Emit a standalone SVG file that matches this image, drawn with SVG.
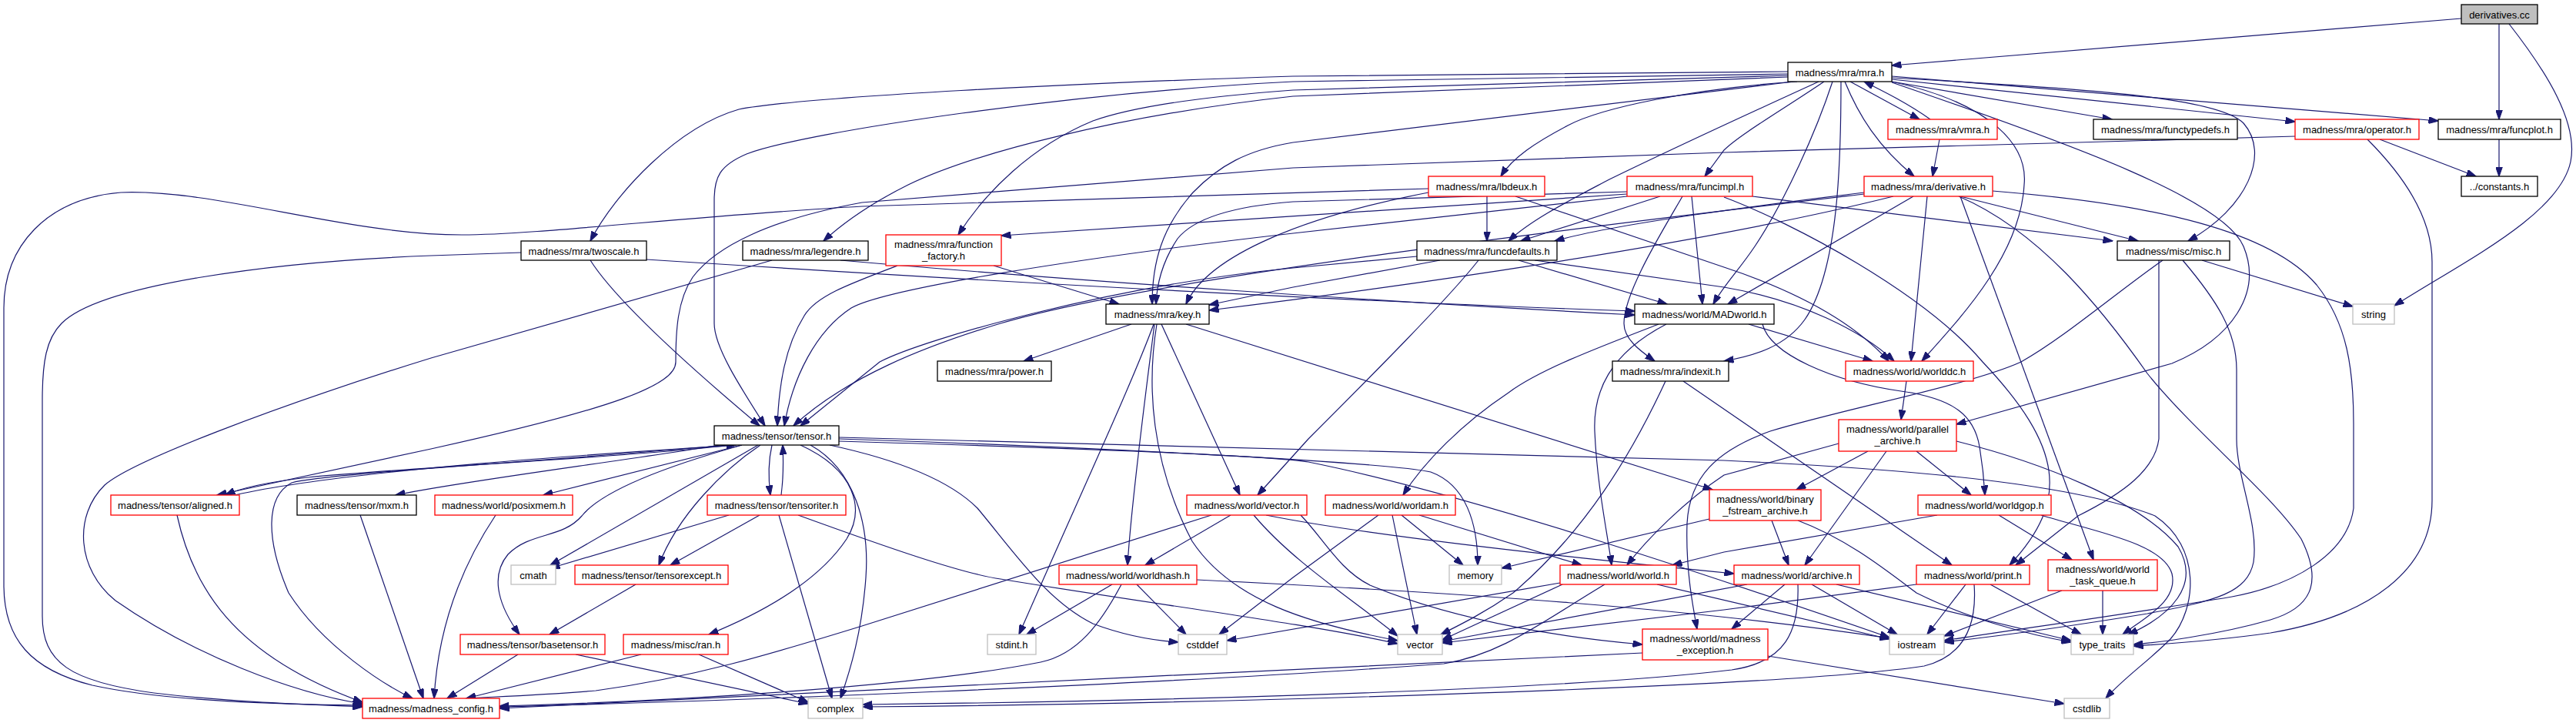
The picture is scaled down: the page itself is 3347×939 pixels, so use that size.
<svg xmlns="http://www.w3.org/2000/svg" width="3347" height="939" viewBox="0 0 3347 939">
<defs>
<style>
.n rect{fill:#fff;stroke-width:1.3}
.b rect{stroke:#000}
.r rect{stroke:#ff0000}
.g rect{stroke:#bfbfbf}
.n text{font-family:"Liberation Sans",Arial,sans-serif;font-size:13px;fill:#000;text-anchor:middle}
#edges path{fill:none;stroke:#191970;stroke-width:1.2;marker-end:url(#ah)}
</style>
<marker id="ah" viewBox="0 0 13 9" refX="12.5" refY="4.5" markerWidth="13" markerHeight="9" markerUnits="userSpaceOnUse" orient="auto"><path d="M0,0L13,4.5L0,9z" fill="#191970" stroke="#191970"/></marker>
</defs>
<rect width="3347" height="939" fill="#fff"/>
<g id="edges">
<path d="M3198,24 L2458,85"/>
<path d="M3247,31 L3247,155"/>
<path d="M3260,31 C3310,95 3350,160 3340,210 C3325,280 3200,340 3111,397"/>
<path d="M2323,93 L1680,99 C1400,108 1050,125 960,142 C880,165 800,250 767,313"/>
<path d="M2323,100 L1680,125 C1450,150 1263,200 1180,240 C1130,265 1095,290 1070,313"/>
<path d="M2323,98 L1680,117 C1500,130 1440,150 1420,157 C1340,190 1280,250 1245,305"/>
<path d="M2330,106 L1680,185 C1620,195 1584,215 1550,250 C1510,295 1497,340 1497,395"/>
<path d="M2335,106 C2200,115 2080,140 2037,163 C1995,185 1965,205 1950,229"/>
<path d="M2370,106 C2320,140 2260,175 2240,195 L2215,229"/>
<path d="M2363,106 C2300,135 2200,180 2091,233 C2040,260 1990,285 1960,313"/>
<path d="M2381,106 C2360,170 2320,260 2280,320 C2260,350 2240,370 2226,395"/>
<path d="M2323,96 L1680,106 C1400,120 1050,170 970,200 C935,215 928,230 928,260 L928,420 C928,450 960,500 994,553"/>
<path d="M2404,106 L2494,155"/>
<path d="M2508,155 C2480,135 2450,120 2422,106"/>
<path d="M2397,106 C2415,150 2440,190 2487,229"/>
<path d="M2458,106 L2744,155"/>
<path d="M2458,103 L2982,158"/>
<path d="M2458,99 L3168,157"/>
<path d="M2458,101 C2700,115 2880,125 2915,160 C2950,200 2920,270 2843,313"/>
<path d="M2458,106 C2590,135 2635,190 2630,240 C2625,330 2550,410 2497,469"/>
<path d="M2392,106 C2392,200 2390,350 2345,415 C2320,450 2280,462 2240,469"/>
<path d="M2458,107 C2700,190 2890,260 2915,320 C2940,380 2900,440 2822,472 L2542,551"/>
<path d="M2520,181 L2511,229"/>
<path d="M677,328 L560,332 C350,340 130,370 80,420 C60,440 55,470 55,520 L55,800 C55,860 90,885 200,900 C300,912 400,915 471,918"/>
<path d="M767,338 C800,390 900,480 987,553"/>
<path d="M840,337 C1200,360 1700,390 2124,404"/>
<path d="M1092,338 C1400,365 1800,392 2124,409"/>
<path d="M1003,338 L560,465 C350,530 170,600 136,630 C95,670 100,740 150,780 C250,850 380,900 471,914"/>
<path d="M1291,345 L1454,395"/>
<path d="M1166,345 C1100,370 1060,385 1045,410 C1020,450 1012,500 1010,553"/>
<path d="M1932,255 L1932,313"/>
<path d="M1856,245 L1120,268 C900,280 700,305 600,305 C450,305 280,245 157,250 C60,258 5,320 5,400 L5,760 C5,830 40,870 120,890 C220,912 380,915 471,916"/>
<path d="M1969,255 L2240,347 C2340,380 2410,420 2454,469"/>
<path d="M1856,250 C1700,280 1570,330 1541,395"/>
<path d="M2157,255 L1976,313"/>
<path d="M2198,255 L2212,395"/>
<path d="M2186,255 C2160,300 2110,380 2110,420 C2110,440 2130,455 2150,469"/>
<path d="M2114,252 L1301,306"/>
<path d="M2114,249 L1680,262 C1600,268 1550,285 1530,310 C1510,340 1503,370 1502,395"/>
<path d="M2114,255 L1680,303 C1400,335 1150,375 1106,400 C1060,430 1030,490 1019,553"/>
<path d="M2277,255 L2745,313"/>
<path d="M2240,256 C2330,290 2500,380 2576,470 C2680,580 2690,650 2611,734"/>
<path d="M2422,250 C2300,265 2100,290 2020,313"/>
<path d="M2460,255 C2200,320 1800,375 1571,403"/>
<path d="M2422,252 C2100,290 1500,360 1300,420 C1200,450 1100,490 1031,553"/>
<path d="M2486,255 L2245,395"/>
<path d="M2504,255 L2483,469"/>
<path d="M2547,255 L2778,313"/>
<path d="M2545,255 C2650,300 2730,400 2790,485 C2850,560 2950,640 2990,700 C3020,760 3000,790 2950,805 C2880,825 2800,835 2772,837"/>
<path d="M2589,248 C2800,265 2950,300 3010,370 C3050,420 3058,480 3058,550 L3058,660 C3050,720 2980,760 2900,775 C2750,800 2600,820 2526,832"/>
<path d="M2547,255 L2720,727"/>
<path d="M3076,181 C3120,225 3160,280 3160,340 L3160,650 C3160,740 3080,800 2950,822 C2880,832 2820,836 2772,839"/>
<path d="M3092,181 L3217,229"/>
<path d="M3247,181 L3247,229"/>
<path d="M2982,177 L2240,198 L1680,218 L1120,263 C1000,285 930,320 900,360 C880,390 878,430 878,470 C878,500 800,530 560,583 L282,643"/>
<path d="M2861,338 L3057,398"/>
<path d="M2836,338 C2880,390 2906,430 2906,480 L2906,570 C2906,620 2935,680 2928,730 C2920,770 2880,780 2790,797 C2680,815 2580,828 2526,834"/>
<path d="M2810,338 C2750,380 2680,440 2626,470 C2560,500 2400,530 2300,560 C2230,585 2195,620 2192,680 C2190,740 2200,790 2205,817"/>
<path d="M2805,338 L2805,570 C2800,610 2760,640 2700,670 L2619,734"/>
<path d="M2164,495 C2120,590 2060,690 1966,770 C1930,795 1900,810 1872,824"/>
<path d="M2187,495 L2536,734"/>
<path d="M2272,421 L2433,469"/>
<path d="M2155,421 C2080,450 2000,480 1960,510 C1900,550 1850,600 1823,643"/>
<path d="M2165,421 C2090,460 2070,510 2072,560 C2075,630 2088,690 2094,734"/>
<path d="M2290,421 C2300,460 2380,495 2470,508 C2540,518 2565,540 2572,580 C2577,610 2578,625 2579,643"/>
<path d="M2477,495 L2470,545"/>
<path d="M2427,586 L2334,636"/>
<path d="M2451,586 L2345,734"/>
<path d="M2490,586 L2561,643"/>
<path d="M2389,576 L2240,617 C2190,650 2140,700 2114,734"/>
<path d="M2542,573 C2650,600 2780,650 2830,710 C2860,760 2820,800 2765,824"/>
<path d="M2302,676 L2324,734"/>
<path d="M2221,674 L1951,738"/>
<path d="M2336,676 C2400,700 2450,740 2490,770 C2560,805 2640,825 2691,834"/>
<path d="M2597,669 L2692,727"/>
<path d="M2517,669 L2240,717 L2173,734"/>
<path d="M2652,669 C2720,690 2810,705 2822,745 C2830,780 2790,800 2758,824"/>
<path d="M2679,767 L2526,826"/>
<path d="M2732,767 L2732,824"/>
<path d="M2554,759 L2504,824"/>
<path d="M2586,759 L2704,824"/>
<path d="M2565,759 C2568,800 2560,850 2500,865 C2300,895 1500,915 1121,918"/>
<path d="M2490,759 L2240,792 L1874,835"/>
<path d="M2354,759 L2465,824"/>
<path d="M2386,759 L2691,832"/>
<path d="M2319,759 L2250,817"/>
<path d="M2270,759 L1874,833"/>
<path d="M2336,759 C2338,820 2320,860 2250,870 C2000,900 1400,912 1121,915"/>
<path d="M2297,852 L2682,914"/>
<path d="M2134,848 C1700,870 1000,900 649,920"/>
<path d="M2030,759 L1874,831"/>
<path d="M2085,759 C2000,810 1950,850 1876,862 C1500,890 900,912 649,918"/>
<path d="M2027,757 L1594,832"/>
<path d="M2153,759 L2455,830"/>
<path d="M1821,669 L1901,734"/>
<path d="M1809,669 L1841,824"/>
<path d="M1844,669 L2055,734"/>
<path d="M1791,669 L1680,750 L1584,824"/>
<path d="M1599,669 L1488,734"/>
<path d="M1574,669 L1120,813 C1000,850 900,880 774,897 C700,903 640,905 606,907"/>
<path d="M1629,669 C1680,730 1760,780 1816,826"/>
<path d="M1645,669 C1800,700 2100,730 2253,745"/>
<path d="M1690,669 C1720,700 1740,740 1780,760 C1900,810 2050,830 2134,837"/>
<path d="M1445,759 L1334,824"/>
<path d="M1477,759 L1541,824"/>
<path d="M1457,759 C1430,810 1400,850 1352,860 C1200,890 900,910 649,917"/>
<path d="M1555,753 C1900,770 2200,790 2455,829"/>
<path d="M1470,421 L1330,469"/>
<path d="M1499,421 C1470,500 1400,650 1324,824"/>
<path d="M1500,421 C1490,500 1470,650 1465,734"/>
<path d="M1503,421 C1490,500 1495,600 1549,703 C1600,780 1700,810 1816,832"/>
<path d="M1509,421 L1611,643"/>
<path d="M1541,421 L2225,636"/>
<path d="M953,578 C800,595 560,605 400,620 C340,627 310,635 293,643"/>
<path d="M305,643 C450,610 800,588 956,578"/>
<path d="M935,578 C800,600 600,625 514,643"/>
<path d="M964,578 L706,643"/>
<path d="M985,578 L715,734"/>
<path d="M1003,578 C998,600 998,620 1001,643"/>
<path d="M1015,643 C1018,620 1018,600 1017,578"/>
<path d="M988,578 C940,610 880,670 856,734"/>
<path d="M964,578 C850,610 780,640 756,670 C730,700 690,690 660,720 C635,750 650,790 675,824"/>
<path d="M1040,578 C1110,610 1125,660 1100,700 C1060,760 980,800 921,824"/>
<path d="M1053,578 C1110,610 1130,680 1125,750 C1120,820 1105,870 1092,907"/>
<path d="M945,578 C700,600 420,615 379,627 C345,645 345,700 375,770 C420,840 500,890 536,907"/>
<path d="M1090,570 C1400,580 1800,600 1859,613 C1905,630 1920,680 1920,734"/>
<path d="M1090,568 L2240,598 C2500,610 2700,630 2800,670 C2860,710 2855,790 2820,830 C2790,860 2760,880 2736,907"/>
<path d="M1090,573 C1400,582 1650,592 1700,600 C1900,640 2200,740 2455,828"/>
<path d="M1078,578 C1180,600 1240,630 1270,660 C1320,720 1360,780 1420,810 C1460,825 1500,832 1531,834"/>
<path d="M947,669 L715,738"/>
<path d="M987,669 L871,734"/>
<path d="M1012,669 L1081,907"/>
<path d="M1037,669 C1150,710 1250,745 1300,752 C1500,785 1700,810 1816,836"/>
<path d="M826,759 L714,824"/>
<path d="M673,850 L581,907"/>
<path d="M748,850 L1050,914"/>
<path d="M833,850 L606,907"/>
<path d="M908,850 L1050,912"/>
<path d="M644,669 C610,720 570,800 564,907"/>
<path d="M468,669 L550,907"/>
<path d="M230,669 C250,760 300,850 471,912"/>
<path d="M1921,338 C1880,390 1780,490 1700,570 L1634,643"/>
<path d="M1973,338 L2166,395"/>
<path d="M1994,338 L2240,373 C2340,390 2420,430 2461,469"/>
<path d="M1871,338 L1680,373 L1571,396"/>
<path d="M1841,333 L1680,348 C1450,370 1200,440 1143,470 L1040,553"/>
</g>
<g id="n_deriv" class="n b"><rect x="3198" y="6" width="99" height="25" style="fill:#bfbfbf"/><text x="3247.5" y="23.5">derivatives.cc</text></g>
<g id="n_mra" class="n b"><rect x="2323" y="81" width="135" height="25"/><text x="2390.5" y="98.5">madness/mra/mra.h</text></g>
<g id="n_vmra" class="n r"><rect x="2453" y="155" width="142" height="26"/><text x="2524" y="172.5">madness/mra/vmra.h</text></g>
<g id="n_functypedefs" class="n b"><rect x="2720" y="155" width="187" height="26"/><text x="2813.5" y="172.5">madness/mra/functypedefs.h</text></g>
<g id="n_operator" class="n r"><rect x="2982" y="155" width="161" height="26"/><text x="3062.5" y="172.5">madness/mra/operator.h</text></g>
<g id="n_funcplot" class="n b"><rect x="3168" y="155" width="159" height="26"/><text x="3247.5" y="172.5">madness/mra/funcplot.h</text></g>
<g id="n_lbdeux" class="n r"><rect x="1856" y="229" width="151" height="26"/><text x="1931.5" y="246.5">madness/mra/lbdeux.h</text></g>
<g id="n_funcimpl" class="n r"><rect x="2114" y="229" width="163" height="26"/><text x="2195.5" y="246.5">madness/mra/funcimpl.h</text></g>
<g id="n_derivative" class="n r"><rect x="2422" y="229" width="167" height="26"/><text x="2505.5" y="246.5">madness/mra/derivative.h</text></g>
<g id="n_constants" class="n b"><rect x="3198" y="229" width="99" height="26"/><text x="3247.5" y="246.5">../constants.h</text></g>
<g id="n_twoscale" class="n b"><rect x="677" y="313" width="163" height="25"/><text x="758.5" y="330.5">madness/mra/twoscale.h</text></g>
<g id="n_legendre" class="n b"><rect x="965" y="313" width="163" height="25"/><text x="1046.5" y="330.5">madness/mra/legendre.h</text></g>
<g id="n_function_factory" class="n r"><rect x="1151" y="305" width="150" height="40"/><text x="1226" y="321.5">madness/mra/function</text><text x="1226" y="336.5">_factory.h</text></g>
<g id="n_funcdefaults" class="n b"><rect x="1841" y="313" width="182" height="25"/><text x="1932" y="330.5">madness/mra/funcdefaults.h</text></g>
<g id="n_misc" class="n b"><rect x="2751" y="313" width="146" height="25"/><text x="2824" y="330.5">madness/misc/misc.h</text></g>
<g id="n_key" class="n b"><rect x="1437" y="395" width="134" height="26"/><text x="1504" y="412.5">madness/mra/key.h</text></g>
<g id="n_MADworld" class="n b"><rect x="2124" y="395" width="181" height="26"/><text x="2214.5" y="412.5">madness/world/MADworld.h</text></g>
<g id="n_string" class="n g"><rect x="3057" y="395" width="54" height="26"/><text x="3084" y="412.5">string</text></g>
<g id="n_power" class="n b"><rect x="1218" y="469" width="148" height="26"/><text x="1292" y="486.5">madness/mra/power.h</text></g>
<g id="n_indexit" class="n b"><rect x="2095" y="469" width="151" height="26"/><text x="2170.5" y="486.5">madness/mra/indexit.h</text></g>
<g id="n_worlddc" class="n r"><rect x="2398" y="469" width="166" height="26"/><text x="2481" y="486.5">madness/world/worlddc.h</text></g>
<g id="n_tensor" class="n b"><rect x="928" y="553" width="162" height="25"/><text x="1009" y="570.5">madness/tensor/tensor.h</text></g>
<g id="n_parallel_archive" class="n r"><rect x="2389" y="545" width="153" height="41"/><text x="2465.5" y="561.5">madness/world/parallel</text><text x="2465.5" y="576.5">_archive.h</text></g>
<g id="n_aligned" class="n r"><rect x="144" y="643" width="167" height="26"/><text x="227.5" y="660.5">madness/tensor/aligned.h</text></g>
<g id="n_mxm" class="n b"><rect x="386" y="643" width="155" height="26"/><text x="463.5" y="660.5">madness/tensor/mxm.h</text></g>
<g id="n_posixmem" class="n r"><rect x="565" y="643" width="179" height="26"/><text x="654.5" y="660.5">madness/world/posixmem.h</text></g>
<g id="n_tensoriter" class="n r"><rect x="919" y="643" width="180" height="26"/><text x="1009" y="660.5">madness/tensor/tensoriter.h</text></g>
<g id="n_vector_h" class="n r"><rect x="1542" y="643" width="156" height="26"/><text x="1620" y="660.5">madness/world/vector.h</text></g>
<g id="n_worldam" class="n r"><rect x="1722" y="643" width="169" height="26"/><text x="1806.5" y="660.5">madness/world/worldam.h</text></g>
<g id="n_binary" class="n r"><rect x="2221" y="636" width="145" height="40"/><text x="2293.5" y="652.5">madness/world/binary</text><text x="2293.5" y="667.5">_fstream_archive.h</text></g>
<g id="n_worldgop" class="n r"><rect x="2492" y="643" width="173" height="26"/><text x="2578.5" y="660.5">madness/world/worldgop.h</text></g>
<g id="n_cmath" class="n g"><rect x="664" y="734" width="58" height="25"/><text x="693" y="751.5">cmath</text></g>
<g id="n_tensorexcept" class="n r"><rect x="747" y="734" width="199" height="25"/><text x="846.5" y="751.5">madness/tensor/tensorexcept.h</text></g>
<g id="n_worldhash" class="n r"><rect x="1376" y="734" width="179" height="25"/><text x="1465.5" y="751.5">madness/world/worldhash.h</text></g>
<g id="n_memory" class="n g"><rect x="1883" y="734" width="68" height="25"/><text x="1917" y="751.5">memory</text></g>
<g id="n_world" class="n r"><rect x="2027" y="734" width="151" height="25"/><text x="2102.5" y="751.5">madness/world/world.h</text></g>
<g id="n_archive" class="n r"><rect x="2253" y="734" width="163" height="25"/><text x="2334.5" y="751.5">madness/world/archive.h</text></g>
<g id="n_print" class="n r"><rect x="2490" y="734" width="147" height="25"/><text x="2563.5" y="751.5">madness/world/print.h</text></g>
<g id="n_task_queue" class="n r"><rect x="2661" y="727" width="142" height="40"/><text x="2732" y="743.5">madness/world/world</text><text x="2732" y="758.5">_task_queue.h</text></g>
<g id="n_basetensor" class="n r"><rect x="598" y="824" width="188" height="26"/><text x="692" y="841.5">madness/tensor/basetensor.h</text></g>
<g id="n_ran" class="n r"><rect x="810" y="824" width="136" height="26"/><text x="878" y="841.5">madness/misc/ran.h</text></g>
<g id="n_stdint" class="n g"><rect x="1283" y="824" width="63" height="26"/><text x="1314.5" y="841.5">stdint.h</text></g>
<g id="n_cstddef" class="n g"><rect x="1531" y="824" width="63" height="26"/><text x="1562.5" y="841.5">cstddef</text></g>
<g id="n_vector" class="n g"><rect x="1816" y="824" width="58" height="26"/><text x="1845" y="841.5">vector</text></g>
<g id="n_madness_exception" class="n r"><rect x="2134" y="817" width="163" height="40"/><text x="2215.5" y="833.5">madness/world/madness</text><text x="2215.5" y="848.5">_exception.h</text></g>
<g id="n_iostream" class="n g"><rect x="2455" y="824" width="71" height="26"/><text x="2490.5" y="841.5">iostream</text></g>
<g id="n_type_traits" class="n g"><rect x="2691" y="824" width="81" height="26"/><text x="2731.5" y="841.5">type_traits</text></g>
<g id="n_madness_config" class="n r"><rect x="471" y="907" width="178" height="26"/><text x="560" y="924.5">madness/madness_config.h</text></g>
<g id="n_complex" class="n g"><rect x="1050" y="907" width="71" height="26"/><text x="1085.5" y="924.5">complex</text></g>
<g id="n_cstdlib" class="n g"><rect x="2682" y="907" width="59" height="26"/><text x="2711.5" y="924.5">cstdlib</text></g>
</svg>
